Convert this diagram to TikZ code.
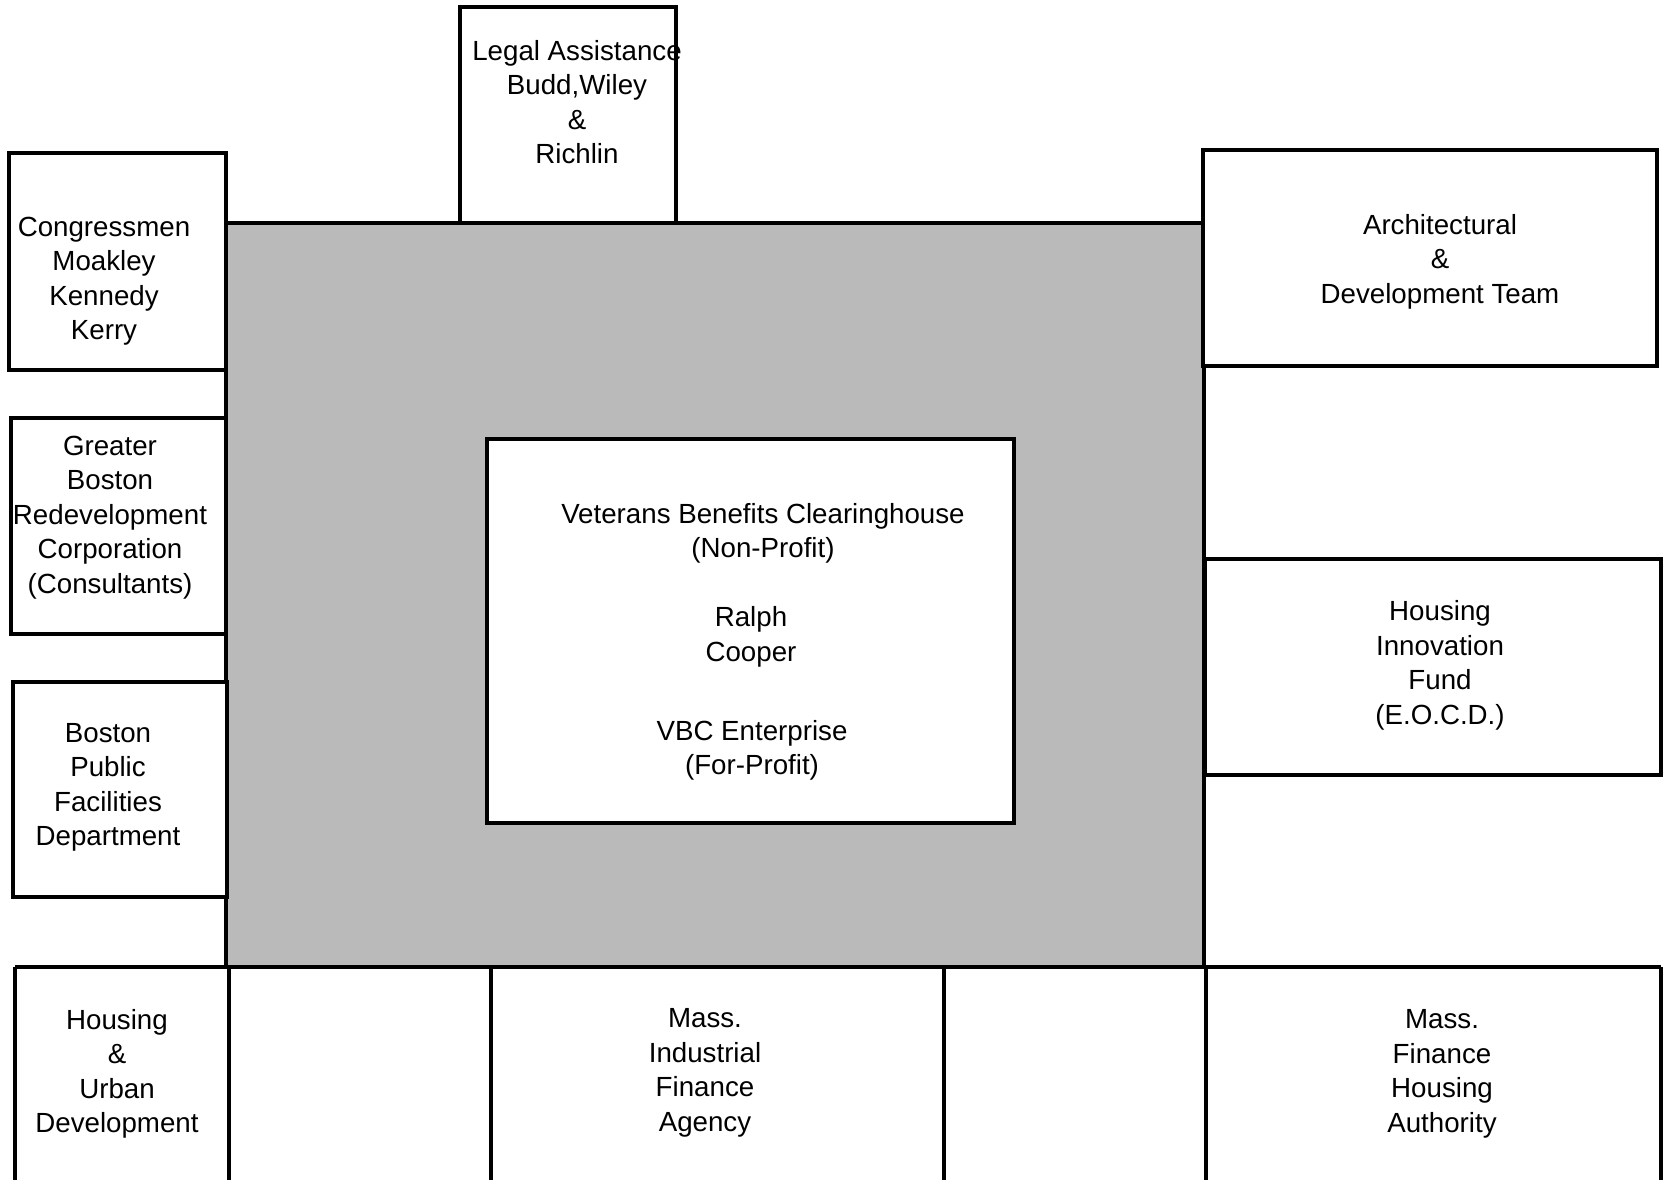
\documentclass[tikz,border=0pt]{standalone}
\usepackage{fontspec}
\setmainfont{Liberation Sans}
\begin{document}
\begin{tikzpicture}[x=1pt,y=-1pt,
  box/.style={draw, line width=3.5pt, fill=white, inner sep=0pt, outer sep=0pt},
  core/.style={draw, line width=3.5pt, fill=black!27, inner sep=0pt, outer sep=0pt},
  txt/.style={font=\fontsize{27.7}{34.5}\selectfont, align=center, inner sep=0pt},
  rule/.style={line width=3.5pt}]
\useasboundingbox (0,0) rectangle (1663,1180);
\fill[white] (0,0) rectangle (1663,1180);

% shaded core region
\node[core, minimum width=978pt, minimum height=744pt] (coreregion) at (715,595) {};

% side boxes
\node[box, minimum width=216pt, minimum height=216pt] (legal) at (568,115) {};
\node[box, minimum width=217pt, minimum height=217pt] (congress) at (117.5,261.5) {};
\node[box, minimum width=215pt, minimum height=216pt] (gbrc) at (118.5,526) {};
\node[box, minimum width=214pt, minimum height=215pt] (bpfd) at (120,789.5) {};
\node[box, minimum width=454pt, minimum height=216pt] (arch) at (1430,258) {};
\node[box, minimum width=456pt, minimum height=216pt] (hif) at (1433,667) {};
\node[box, minimum width=527pt, minimum height=384pt] (vbc) at (750.5,631) {};

% bottom row
\coordinate (bl) at (15,967);
\coordinate (br) at (1661,967);
\draw[line width=4.5pt] (bl) -- (br);
\foreach \xx in {15,229,491,944,1206,1661}{
  \draw[rule] (\xx,967) -- (\xx,1190);
}

% texts
\node[txt] (legal-t) at (577,102) {Legal Assistance\\Budd,Wiley\\\&\\Richlin};
\node[txt] (congress-t) at (104,281) {Congressmen\\Moakley\\Kennedy\\Kerry};
\node[txt] (gbrc-t) at (110,517.5) {Greater\\Boston\\Redevelopment\\Corporation\\(Consultants)};
\node[txt] (bpfd-t) at (108,787.5) {Boston\\Public\\Facilities\\Department};
\node[txt] (arch-t) at (1440,261.5) {Architectural\\\&\\Development Team};
\node[txt] (hif-t) at (1440,665.5) {Housing\\Innovation\\Fund\\(E.O.C.D.)};
\node[txt] (hud-t) at (117,1074) {Housing\\\&\\Urban\\Development};
\node[txt] (mifa-t) at (705,1073) {Mass.\\Industrial\\Finance\\Agency};
\node[txt] (mfha-t) at (1442,1074) {Mass.\\Finance\\Housing\\Authority};

\node[txt] (vbc-t1) at (763,533.5) {Veterans Benefits Clearinghouse\\(Non-Profit)};
\node[txt] (vbc-t2) at (751,637) {Ralph\\Cooper};
\node[txt] (vbc-t3) at (752,750.5) {VBC Enterprise\\(For-Profit)};
\end{tikzpicture}
\end{document}
